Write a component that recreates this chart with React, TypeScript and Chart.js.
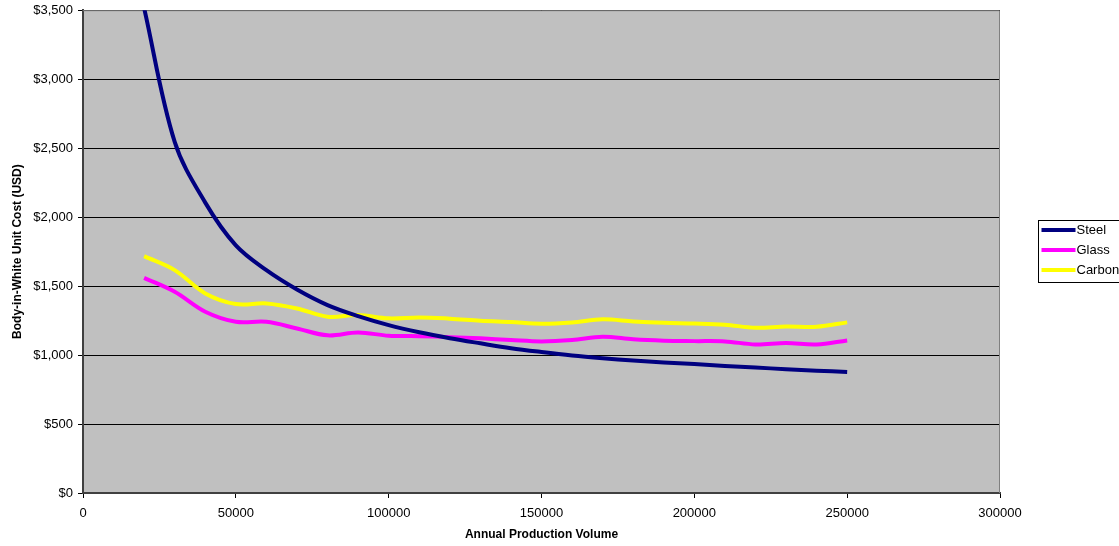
import React, { useEffect, useRef } from 'react';
import { Chart, registerables } from 'chart.js';

Chart.register(...registerables);

const volumes = [20000, 30000, 40000, 50000, 60000, 70000, 80000, 90000, 100000, 110000, 120000, 130000, 140000, 150000, 160000, 170000, 180000, 190000, 200000, 210000, 220000, 230000, 240000, 250000];
const steelCost = [3515, 2545, 2105, 1795, 1615, 1475, 1362, 1282, 1217, 1165, 1122, 1085, 1050, 1022, 997, 977, 960, 946, 935, 921, 910, 897, 887, 877];
const glassCost = [1560, 1459, 1314, 1241, 1241, 1193, 1143, 1164, 1140, 1137, 1130, 1121, 1109, 1099, 1109, 1133, 1114, 1104, 1101, 1099, 1077, 1087, 1077, 1106];
const carbonCost = [1717, 1616, 1447, 1370, 1374, 1338, 1278, 1290, 1266, 1273, 1264, 1249, 1239, 1227, 1236, 1259, 1244, 1234, 1229, 1220, 1198, 1207, 1205, 1237];
const seriesNames = ['Steel', 'Glass', 'Carbon'];
const seriesColors = ['#000080', '#FF00FF', '#FFFF00'];
const seriesValues = [steelCost, glassCost, carbonCost];
const xAxisTitle = 'Annual Production Volume';
const yAxisTitle = 'Body-in-White Unit Cost (USD)';

const FONT = '"Liberation Sans", Arial, sans-serif';

const plotBackground = {
  id: 'plotBackground',
  beforeDraw(chart: any) {
    const { ctx, chartArea: a } = chart;
    ctx.save();
    ctx.fillStyle = '#C0C0C0';
    ctx.fillRect(a.left, a.top, a.right - a.left, a.bottom - a.top);
    ctx.restore();
  },
  beforeDatasetsDraw(chart: any) {
    const { ctx, chartArea: a } = chart;
    ctx.save();
    ctx.strokeStyle = '#808080';
    ctx.lineWidth = 1;
    ctx.beginPath();
    ctx.moveTo(a.left, a.top + 0.5);
    ctx.lineTo(a.right - 0.5, a.top + 0.5);
    ctx.lineTo(a.right - 0.5, a.bottom);
    ctx.stroke();
    ctx.restore();
  },
};

const boxedLegend = {
  id: 'boxedLegend',
  afterDraw(chart: any) {
    const { ctx, chartArea: a } = chart;
    const left = a.right + 38.5;
    const top = 220.5;
    ctx.save();
    ctx.strokeStyle = '#000000';
    ctx.lineWidth = 1;
    ctx.strokeRect(left, top, 100, 62);
    ctx.font = `13px ${FONT}`;
    ctx.textBaseline = 'middle';
    ctx.textAlign = 'left';
    chart.data.datasets.forEach((ds: any, i: number) => {
      const y = top + 9.5 + i * 20;
      ctx.strokeStyle = ds.borderColor;
      ctx.lineWidth = 4;
      ctx.beginPath();
      ctx.moveTo(left + 3, y);
      ctx.lineTo(left + 37, y);
      ctx.stroke();
      ctx.fillStyle = '#000000';
      ctx.fillText(ds.label, left + 38, y + 0.5);
    });
    ctx.restore();
  },
};

export default function App() {
  const ref = useRef<HTMLCanvasElement | null>(null);

  useEffect(() => {
    if (!ref.current) return;
    const chart = new Chart(ref.current, {
      type: 'line',
      data: {
        datasets: seriesNames.map((name, i) => ({
          label: name,
          data: volumes.map((v, j) => ({ x: v, y: seriesValues[i][j] })),
          borderColor: seriesColors[i],
          backgroundColor: seriesColors[i],
          borderWidth: 4,
          pointRadius: 0,
          tension: 0.35,
          fill: false,
        })),
      },
      options: {
        responsive: false,
        animation: false,
        layout: { padding: { top: 10, right: 119, left: 0, bottom: 0 } },
        plugins: {
          legend: { display: false },
          tooltip: { enabled: false },
        },
        scales: {
          x: {
            type: 'linear',
            min: 0,
            max: 300000,
            ticks: {
              stepSize: 50000,
              color: '#000000',
              font: { family: FONT, size: 13 },
              padding: 8,
              maxRotation: 0,
              callback: (v: any) => String(v),
            },
            grid: {
              drawOnChartArea: false,
              drawTicks: true,
              tickLength: 5,
              color: '#000000',
            },
            border: { color: '#404040', width: 2 },
            title: {
              display: true,
              text: xAxisTitle,
              color: '#000000',
              font: { family: FONT, size: 12, weight: 'bold' },
              padding: { top: 4, bottom: 4 },
            },
            afterFit(scale: any) {
              scale.height = 53;
            },
          },
          y: {
            min: 0,
            max: 3500,
            ticks: {
              stepSize: 500,
              color: '#000000',
              font: { family: FONT, size: 13, lineHeight: 0.8 },
              padding: 5,
              callback: (v: any) => '$' + Number(v).toLocaleString('en-US'),
            },
            grid: {
              color: '#000000',
              tickLength: 5,
              lineWidth: 1,
            },
            border: { color: '#404040', width: 2 },
            title: {
              display: true,
              text: yAxisTitle,
              color: '#000000',
              font: { family: FONT, size: 12, weight: 'bold' },
              padding: { top: 10, bottom: 4 },
            },
            afterFit(scale: any) {
              scale.width = 83;
            },
          },
        },
      },
      plugins: [plotBackground, boxedLegend],
    } as any);
    return () => chart.destroy();
  }, []);

  return (
    <div style={{ position: 'absolute', left: 0, top: 0, width: 1119, height: 546, background: '#ffffff' }}>
      <canvas ref={ref} width={1119} height={546} style={{ display: 'block' }} />
    </div>
  );
}
